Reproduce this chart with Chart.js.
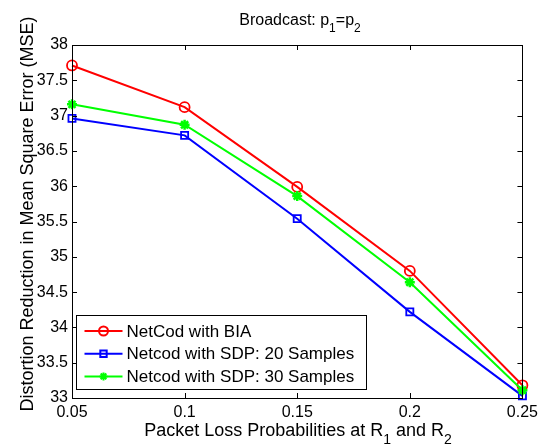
<!DOCTYPE html>
<html><head><meta charset="utf-8">
<script src="https://cdn.jsdelivr.net/npm/chart.js@4/dist/chart.umd.min.js"></script>
<style>html,body{margin:0;padding:0;background:#fff}#wrap{width:543px;height:445px}</style>
</head><body><div id="wrap"><canvas id="c" width="543" height="445"></canvas></div>
<script>
const xValues = [0.05, 0.1, 0.15, 0.2, 0.25];
const xTickLabels = ['0.05', '0.1', '0.15', '0.2', '0.25'];
const yTickValues = [33, 33.5, 34, 34.5, 35, 35.5, 36, 36.5, 37, 37.5, 38];
const yTickLabels = ['33', '33.5', '34', '34.5', '35', '35.5', '36', '36.5', '37', '37.5', '38'];
const seriesNames = ['NetCod with BIA', 'Netcod with SDP: 20 Samples', 'Netcod with SDP: 30 Samples'];
const bia = [37.71, 37.12, 35.99, 34.80, 33.18];
const sdp20 = [36.96, 36.72, 35.54, 34.22, 33.03];
const sdp30 = [37.16, 36.87, 35.86, 34.64, 33.11];

const FONT = '"Liberation Sans", Arial, sans-serif';
const toPts = arr => arr.map((v, i) => ({x: xValues[i], y: v}));

const decor = {
  id: 'decor',
  afterDraw(chart) {
    const ctx = chart.ctx, a = chart.chartArea;
    const xs = chart.scales.x, ys = chart.scales.y;
    ctx.save();
    ctx.strokeStyle = '#000'; ctx.lineWidth = 1;
    ctx.strokeRect(Math.round(a.left) + 0.5, Math.round(a.top) + 0.5, Math.round(a.right - a.left), Math.round(a.bottom - a.top));
    ctx.beginPath();
    const tl = 5;
    xValues.forEach(v => {
      const px = Math.round(xs.getPixelForValue(v)) + 0.5;
      ctx.moveTo(px, a.bottom); ctx.lineTo(px, a.bottom - tl);
      ctx.moveTo(px, a.top); ctx.lineTo(px, a.top + tl);
    });
    yTickValues.forEach(v => {
      const py = Math.round(ys.getPixelForValue(v)) + 0.5;
      ctx.moveTo(a.left, py); ctx.lineTo(a.left + tl, py);
      ctx.moveTo(a.right, py); ctx.lineTo(a.right - tl, py);
    });
    ctx.stroke();

    function subText(parts, cx, cy, size) {
      const subSize = Math.round(size * 0.75);
      let total = 0;
      parts.forEach(p => { ctx.font = (p.sub ? subSize : size) + 'px ' + FONT; total += ctx.measureText(p.t).width; });
      let x = cx - total / 2;
      ctx.textBaseline = 'alphabetic'; ctx.textAlign = 'left'; ctx.fillStyle = '#000';
      parts.forEach(p => {
        ctx.font = (p.sub ? subSize : size) + 'px ' + FONT;
        ctx.fillText(p.t, x, cy + (p.sub ? size * 0.45 : 0));
        x += ctx.measureText(p.t).width;
      });
    }
    subText([{t: 'Broadcast: p'}, {t: '1', sub: true}, {t: '=p'}, {t: '2', sub: true}], 300, 25, 16);
    subText([{t: 'Packet Loss Probabilities at R'}, {t: '1', sub: true}, {t: ' and R'}, {t: '2', sub: true}], 298, 436, 18);

    ctx.save();
    ctx.translate(33, 214); ctx.rotate(-Math.PI / 2);
    ctx.font = '18px ' + FONT; ctx.textAlign = 'center'; ctx.textBaseline = 'alphabetic'; ctx.fillStyle = '#000';
    ctx.fillText('Distortion Reduction in Mean Square Error (MSE)', 0, 0);
    ctx.restore();

    // legend
    const lx = 76.5, ly = 315.5, lw = 290, lh = 74;
    ctx.fillStyle = '#fff'; ctx.fillRect(lx, ly, lw, lh);
    ctx.strokeStyle = '#000'; ctx.lineWidth = 1; ctx.strokeRect(lx, ly, lw, lh);
    chart.data.datasets.forEach((ds, i) => {
      const yy = ly + 15.5 + i * 22.7;
      ctx.strokeStyle = ds.borderColor; ctx.lineWidth = 2;
      ctx.beginPath(); ctx.moveTo(lx + 8, yy); ctx.lineTo(lx + 46, yy); ctx.stroke();
      ctx.fillStyle = ds.pointBackgroundColor;
      Chart.helpers.drawPoint(ctx, {pointStyle: ds.pointStyle, radius: ds.pointStyle === 'star' ? 4 : 4.5, borderWidth: ds.pointBorderWidth, rotation: 0}, lx + 27, yy);
      ctx.fillStyle = '#000'; ctx.font = '17px ' + FONT; ctx.textAlign = 'left'; ctx.textBaseline = 'middle';
      ctx.fillText(seriesNames[i], lx + 50, yy + 1);
    });
    ctx.restore();
  }
};

new Chart(document.getElementById('c'), {
  type: 'line',
  data: {
    datasets: [
      {label: seriesNames[0], data: toPts(bia), borderColor: '#ff0000', backgroundColor: 'rgba(0,0,0,0)', borderWidth: 2, pointStyle: 'circle', pointRadius: 5, pointBorderWidth: 1.8, pointBackgroundColor: 'rgba(0,0,0,0)', pointBorderColor: '#ff0000', order: 2, clip: false},
      {label: seriesNames[1], data: toPts(sdp20), borderColor: '#0000ff', backgroundColor: 'rgba(0,0,0,0)', borderWidth: 2, pointStyle: 'rect', pointRadius: 5, pointBorderWidth: 1.8, pointBackgroundColor: 'rgba(0,0,0,0)', pointBorderColor: '#0000ff', order: 1, clip: false},
      {label: seriesNames[2], data: toPts(sdp30), borderColor: '#00ff00', backgroundColor: 'rgba(0,0,0,0)', borderWidth: 2, pointStyle: 'star', pointRadius: 5, pointBorderWidth: 2.5, pointBackgroundColor: '#00ff00', pointBorderColor: '#00ff00', order: 0, clip: false}
    ]
  },
  options: {
    responsive: false, animation: false,
    layout: {padding: {left: 0, right: 16, top: 45, bottom: 0}},
    plugins: {legend: {display: false}, title: {display: false}, tooltip: {enabled: false}},
    elements: {line: {tension: 0}},
    scales: {
      x: {
        type: 'linear', min: 0.05, max: 0.25,
        afterBuildTicks: s => { s.ticks = xValues.map(v => ({value: v})); },
        afterFit: s => { s.height = 47; },
        grid: {display: false, drawTicks: false},
        border: {display: false},
        ticks: {padding: 5, color: '#000', font: {family: FONT, size: 16}, maxRotation: 0, autoSkip: false,
          callback: (v, i) => xTickLabels[i]}
      },
      y: {
        type: 'linear', min: 33, max: 38,
        afterBuildTicks: s => { s.ticks = yTickValues.map(v => ({value: v})); },
        afterFit: s => { s.width = 72; },
        grid: {display: false, drawTicks: false},
        border: {display: false},
        ticks: {padding: 4, color: '#000', font: {family: FONT, size: 16}, autoSkip: false,
          callback: (v, i) => yTickLabels[i]}
      }
    }
  },
  plugins: [decor]
});
</script>
</body></html>
